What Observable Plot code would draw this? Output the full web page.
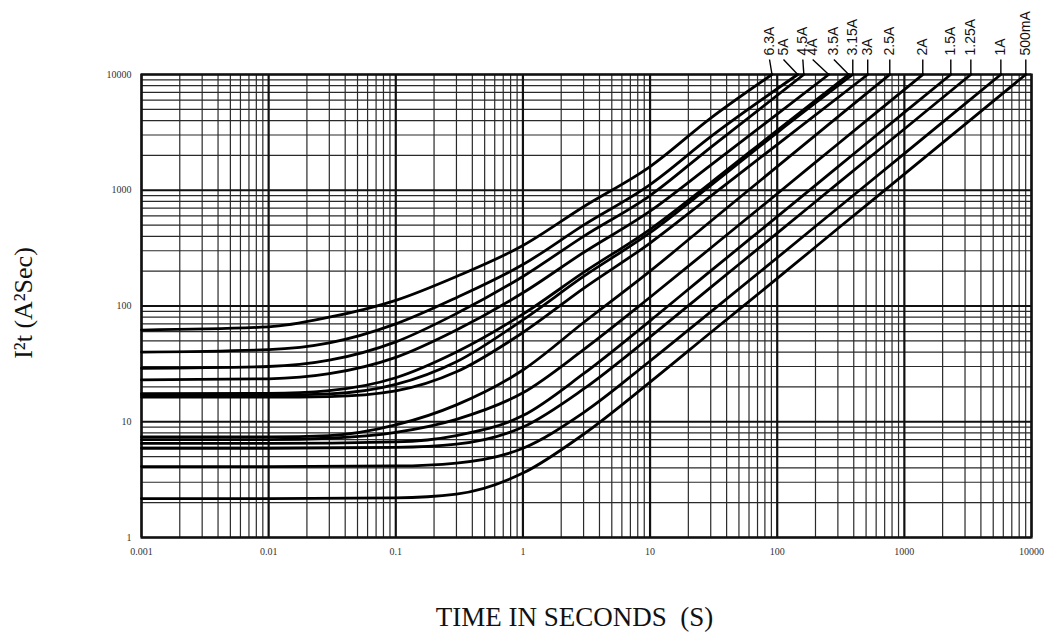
<!DOCTYPE html>
<html><head><meta charset="utf-8">
<script src="https://cdn.jsdelivr.net/npm/d3@7"></script>
<script src="https://cdn.jsdelivr.net/npm/@observablehq/plot@0.6"></script>
<style>html,body{margin:0;padding:0;background:#fff}</style>
</head><body><div id="chart"></div>
<script>
// ---- data (time in s, I²t in A²s) ----
const labels = ["6.3A","5A","4.5A","4A","3.5A","3.15A","3A","2.5A","2A","1.5A","1.25A","1A","500mA"];
const s6_3A = [[0.001,62],[0.01,66],[0.03,80],[0.1,112],[0.3,180],[1,333],[3,720],[10,1600],[30,4200],[91,10000]];
const s5A   = [[0.001,40],[0.01,42],[0.03,48],[0.1,70],[0.3,118],[1,228],[3,500],[10,1120],[30,2900],[145,10000]];
const s4_5A = [[0.001,29],[0.01,30],[0.03,34],[0.1,49],[0.3,86],[1,180],[3,400],[10,900],[30,2350],[162,10000]];
const s4A   = [[0.001,23],[0.01,23.5],[0.03,26],[0.1,36],[0.3,62],[1,130],[3,290],[10,660],[30,1650],[100,4550],[254,10000]];
const s3_5A = [[0.001,17.5],[0.01,17.6],[0.03,18.6],[0.1,24],[0.3,40],[1,85],[3,195],[10,460],[30,1160],[100,3300],[365,10000]];
const s3_15A= [[0.001,17],[0.01,17],[0.03,17.4],[0.1,21],[0.3,33],[1,76],[3,180],[10,430],[30,1100],[100,3150],[393,10000]];
const s3A   = [[0.001,16.3],[0.01,16.3],[0.03,16.5],[0.1,18.5],[0.3,27],[1,59],[3,142],[10,350],[30,890],[100,2480],[515,10000]];
const s2_5A = [[0.001,7.4],[0.01,7.4],[0.03,7.6],[0.1,9.4],[0.3,14],[1,28],[3,72],[10,200],[30,540],[100,1600],[300,4300],[768,10000]];
const s2A   = [[0.001,7.0],[0.01,7.0],[0.03,7.2],[0.1,8.1],[0.3,10.5],[1,17.8],[3,42],[10,119],[30,317],[100,932],[300,2510],[1000,7400],[1396,10000]];
const s1_5A = [[0.001,6.5],[0.01,6.5],[0.1,6.7],[0.3,7.6],[1,11.3],[3,26],[10,74.5],[30,201],[100,591],[300,1590],[1000,4700],[2319,10000]];
const s1_25A= [[0.001,5.9],[0.01,5.9],[0.1,6.0],[0.3,6.4],[1,9.0],[3,19.2],[10,54],[30,145],[100,426],[300,1146],[1000,3380],[3334,10000]];
const s1A   = [[0.001,4.1],[0.01,4.1],[0.1,4.15],[0.3,4.4],[1,5.9],[3,12],[10,33.5],[30,89],[100,261],[300,703],[1000,2070],[3000,5580],[5741,10000]];
const s500mA= [[0.001,2.17],[0.01,2.17],[0.1,2.2],[0.3,2.37],[1,3.6],[3,7.8],[10,22],[30,59],[100,173],[300,467],[1000,1378],[3000,3706],[9020,10000]];
const seriesList = [s6_3A,s5A,s4_5A,s4A,s3_5A,s3_15A,s3A,s2_5A,s2A,s1_5A,s1_25A,s1A,s500mA];
// where each label sits (time) and where its curve meets the top edge (time)
const labelTimes = [87,112,159,190,279,393,515,768,1396,2319,3334,5741,9020];
const endTimes   = [91,145,162,254,365,393,515,768,1396,2319,3334,5741,9020];
const xTicks = [0.001,0.01,0.1,1,10,100,1000,10000];
const xTickLabels = ["0.001","0.01","0.1","1","10","100","1000","10000"];
const yTicks = [1,10,100,1000,10000];
const yTickLabels = ["1","10","100","1000","10000"];
const xTitle = "TIME IN SECONDS  (S)";
const yTitle = "I²t (A²Sec)";

// ---- build tables ----
const curveData = seriesList.flatMap((s, i) => s.map(([t, v]) => ({label: labels[i], t, v})));
const labelData = labels.map((label, i) => ({label, lt: labelTimes[i], et: endTimes[i]}));
const minorX = xTicks.slice(0, -1).flatMap(d => d3.range(2, 10).map(k => d * k));
const minorY = yTicks.slice(0, -1).flatMap(d => d3.range(2, 10).map(k => d * k));

const decadePxY = (635 - 74 - 98) / 4;
const leaderTop = 10000 * Math.pow(10, 15 / decadePxY);

const chart = Plot.plot({
  width: 1053, height: 635,
  marginLeft: 141, marginRight: 22, marginTop: 74, marginBottom: 98,
  x: {type: "log", domain: [0.001, 10000]},
  y: {type: "log", domain: [1, 10000]},
  style: {fontFamily: "'Liberation Serif', 'DejaVu Serif', serif", background: "#fff", overflow: "visible"},
  marks: [
    Plot.ruleX(minorX, {stroke: "#2a2a2a", strokeWidth: 1.2}),
    Plot.ruleY(minorY, {stroke: "#2a2a2a", strokeWidth: 1.2}),
    Plot.ruleX(xTicks, {stroke: "#111", strokeWidth: 2.2}),
    Plot.ruleY(yTicks, {stroke: "#111", strokeWidth: 2.2}),
    Plot.frame({stroke: "#111", strokeWidth: 2.2}),
    Plot.line(curveData, {x: "t", y: "v", z: "label", stroke: "#000", strokeWidth: 2.8, curve: "monotone-x"}),
    Plot.link(labelData, {x1: "lt", x2: "et", y1: () => leaderTop, y2: () => 10000, stroke: "#000", strokeWidth: 1.4, clip: false}),
    Plot.text(labelData, {x: "lt", y: () => 10000, text: "label", rotate: -90, textAnchor: "start", dy: -19,
      fontSize: 14, fontFamily: "'Liberation Sans Narrow', 'Liberation Sans', Arial, sans-serif", fill: "#111"}),
    Plot.axisX({ticks: xTicks, tickFormat: (d) => xTickLabels[xTicks.indexOf(d)], tickSize: 0, tickPadding: 10,
      fontSize: 10, fill: "#333", label: null}),
    Plot.axisY({ticks: yTicks, tickFormat: (d) => yTickLabels[yTicks.indexOf(d)], tickSize: 0, tickPadding: 10,
      fontSize: 10, fill: "#333", label: null}),
    Plot.text([xTitle], {text: d => d, frameAnchor: "bottom", dy: 80, dx: -12, textAnchor: "middle", lineAnchor: "middle", fontSize: 27, fill: "#111"}),
    Plot.text([yTitle], {text: d => d, frameAnchor: "left", dx: -118, dy: -3, rotate: -90, textAnchor: "middle", lineAnchor: "middle", fontSize: 26, fill: "#111"})
  ]
});
document.getElementById("chart").appendChild(chart);
</script>
</body></html>
